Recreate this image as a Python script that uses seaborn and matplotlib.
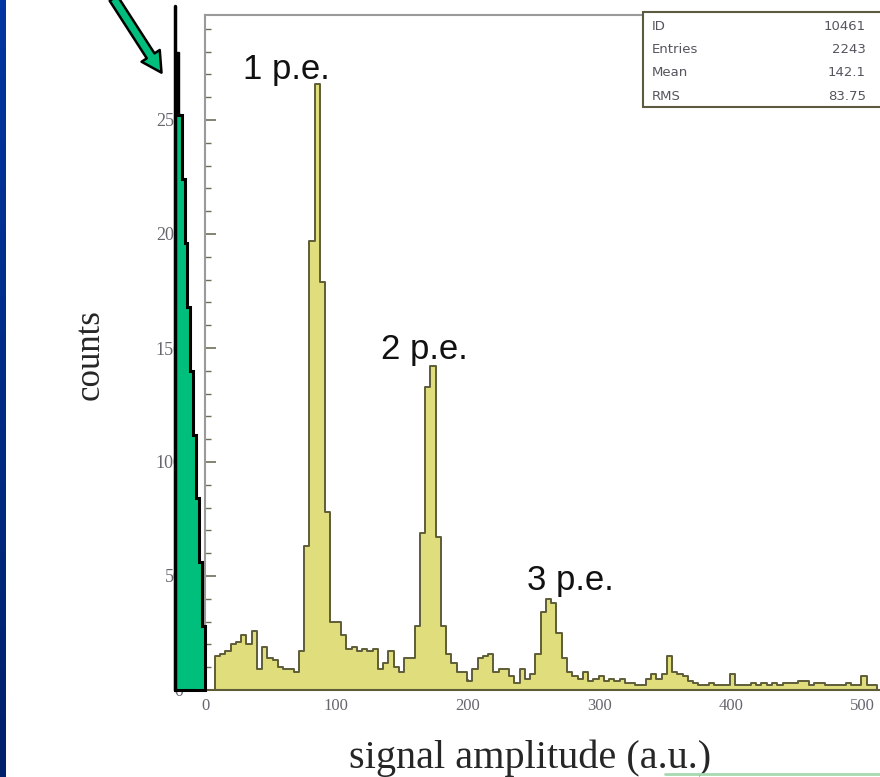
import numpy as np
import pandas as pd
import matplotlib
matplotlib.use("Agg")
import matplotlib.pyplot as plt
from matplotlib.ticker import MultipleLocator
from matplotlib.patches import Rectangle, FancyArrowPatch
from matplotlib.colors import LinearSegmentedColormap
import seaborn as sns

# signal amplitude histogram, bins of width 4 starting at 7.5
bin_width = 4
first_edge = 7.5
counts = [15, 16, 17, 20, 21, 24, 20, 26, 9, 19,
          14, 13, 10, 9, 9, 8, 17, 63, 197, 266,
          179, 78, 30, 30, 24, 18, 19, 17, 18, 17,
          18, 9, 12, 17, 10, 8, 14, 14, 28, 69,
          133, 142, 67, 28, 16, 12, 8, 8, 4, 9,
          14, 15, 16, 8, 9, 9, 6, 3, 9, 5,
          7, 16, 34, 40, 38, 25, 14, 8, 6, 5,
          8, 4, 5, 6, 4, 5, 4, 5, 3, 3,
          2, 2, 5, 7, 5, 7, 15, 8, 7, 6,
          4, 3, 2, 2, 3, 2, 2, 2, 7, 2,
          2, 2, 3, 2, 3, 2, 3, 2, 3, 3,
          3, 4, 4, 2, 3, 3, 2, 2, 2, 2,
          3, 2, 2, 6, 2, 2]
edges = first_edge + bin_width * np.arange(len(counts) + 1)
centers = edges[:-1] + bin_width / 2
hist_df = pd.DataFrame({"amplitude": centers, "n": counts})

peak_names = ["1 p.e.", "2 p.e.", "3 p.e."]
peak_x = [62, 167, 278]
peak_y = [268, 145, 44]

x_ticks = [0, 100, 200, 300, 400, 500]
y_ticks = [0, 50, 100, 150, 200, 250]

stats_names = ["ID", "Entries", "Mean", "RMS"]
stats_values = ["10461", "2243", "142.1", "83.75"]

# green staircase pasted over the left of the plot (pedestal marker)
ped_top = [252, 224, 196, 168, 140, 112, 84, 56, 28]
ped_right = [-17.5, -15.2, -13.7, -11.4, -9.1, -6.8, -4.6, -2.3, 0.0]
ped_left = -22.8

sns.set_style("white")
fig = plt.figure(figsize=(8.8, 7.77), dpi=100)
ax = fig.add_axes([205 / 880, 87 / 777, 675 / 880, 675 / 777])

sns.histplot(data=hist_df, x="amplitude", weights="n", bins=list(edges),
             element="step", fill=True, color="#dfdd7c", edgecolor="#5e5d38",
             linewidth=1.4, alpha=1, ax=ax)

# pedestal staircase
xs = [ped_left, ped_left]
ys = [0, ped_top[0]]
for k in range(len(ped_top)):
    xs += [ped_right[k], ped_right[k]]
    ys += [ped_top[k], ped_top[k + 1] if k + 1 < len(ped_top) else 0]
for p in ax.fill(xs, ys, facecolor="#00be7c", edgecolor="black", lw=2.2, zorder=6):
    p.set_clip_on(False)
for p in ax.fill([ped_left, ped_left + 3, ped_left + 3, ped_left], [252, 252, 280, 280],
                 facecolor="black", edgecolor="black", lw=1, zorder=7):
    p.set_clip_on(False)
ax.plot([ped_left, ped_left], [0, 300], color="black", lw=2.5, clip_on=False, zorder=7)

for name, px, py in zip(peak_names, peak_x, peak_y):
    ax.text(px, py, name, ha="center", va="baseline", fontsize=25,
            family="Liberation Sans", color="#111111")

ax.set_xlim(0, 675 / 1.314)
ax.set_ylim(0, 675 / 2.28)
ax.set_xticks(x_ticks)
ax.set_yticks(y_ticks)
ax.xaxis.set_minor_locator(MultipleLocator(20))
ax.yaxis.set_minor_locator(MultipleLocator(10))
ax.tick_params(which="both", direction="in", bottom=True, left=True,
               colors="#6e6e5a", labelcolor="#66666f")
ax.tick_params(which="major", length=8, width=1.2)
ax.tick_params(which="minor", length=4, width=1)
ax.tick_params(axis="x", labelsize=12, pad=6)
ax.tick_params(axis="y", labelsize=13, pad=16)
for lab in ax.get_xticklabels() + ax.get_yticklabels():
    lab.set_family("Liberation Serif")
ax.set_xlabel("")
ax.set_ylabel("")
for side in ["left", "top"]:
    ax.spines[side].set_color("#9a9a9a")
    ax.spines[side].set_linewidth(1.5)
ax.spines["bottom"].set_color("#5e5d38")
ax.spines["bottom"].set_linewidth(1.5)
ax.spines["right"].set_visible(False)

fig.text(90 / 880, 1 - 355 / 777, "counts", rotation=90, ha="center", va="center",
         fontsize=25, family="Liberation Serif")
fig.text(530 / 880, (777 - 768) / 777, "signal amplitude (a.u.)", ha="center",
         va="baseline", fontsize=29, family="Liberation Serif")

# decoration layer in pixel coordinates
deco = fig.add_axes([0, 0, 1, 1], zorder=10)
deco.patch.set_alpha(0)
deco.imshow(np.linspace(0, 1, 100).reshape(-1, 1),
            cmap=LinearSegmentedColormap.from_list("slide", ["#0036a0", "#00216b"]),
            extent=(0, 6, 777, 0), aspect="auto")
deco.plot([665, 880], [774, 774], color="#a8d8b0", lw=2)
deco.add_patch(FancyArrowPatch((112, -4), (163, 75),
               arrowstyle="simple,head_length=1.2,head_width=1.3,tail_width=0.55",
               mutation_scale=12, fc="#00be7c", ec="black", lw=1.8))
deco.add_patch(Rectangle((643, 12), 250, 95, fc="white", ec="#5c5b40", lw=1.5))
for i, (name, val) in enumerate(zip(stats_names, stats_values)):
    y = 26 + i * 23.5
    deco.text(652, y, name, ha="left", va="center", fontsize=9.5, color="#55555f")
    deco.text(866, y, val, ha="right", va="center", fontsize=9.5, color="#55555f")
deco.set_xlim(0, 880)
deco.set_ylim(777, 0)
deco.axis("off")

fig.savefig("out.png", dpi=100)
